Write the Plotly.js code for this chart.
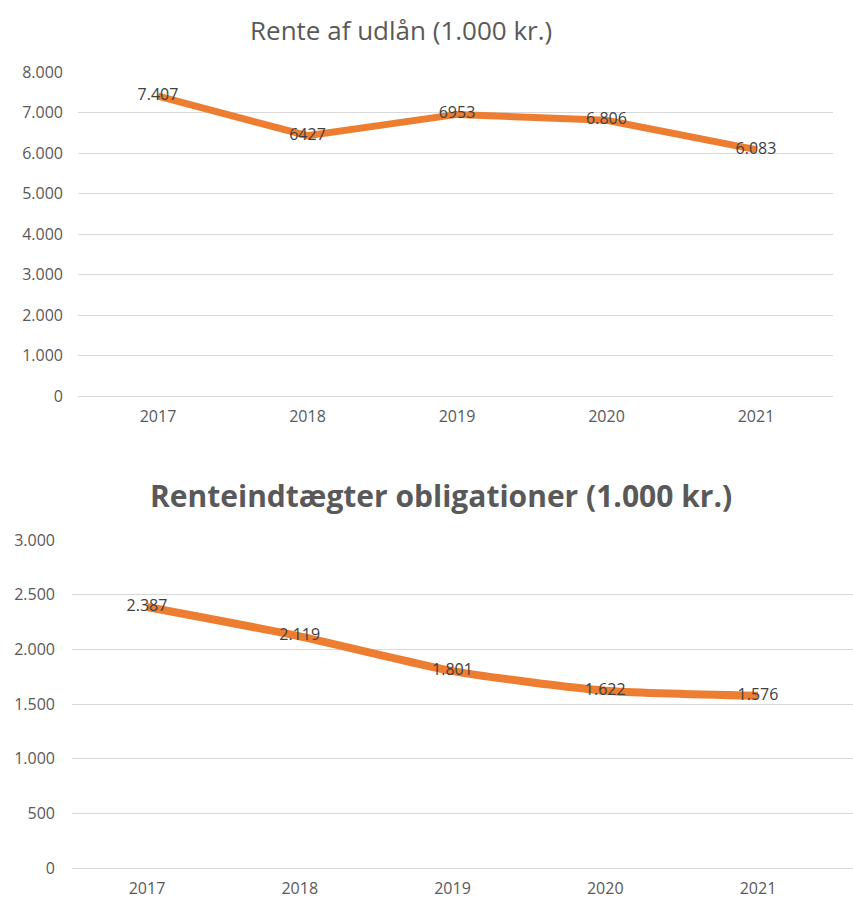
<!DOCTYPE html>
<html>
<head>
<meta charset="utf-8">
<script src="https://cdn.plot.ly/plotly-3.0.1.min.js"></script>
<style>html,body{margin:0;padding:0;background:#fff;}#chart{width:853px;height:903px;}</style>
</head>
<body>
<div id="chart"></div>
<script>
const years = ["2017", "2018", "2019", "2020", "2021"];
const renteUdlaan = [7407, 6427, 6953, 6806, 6083];
const renteUdlaanLabels = ["7.407", "6427", "6953", "6.806", "6.083"];
const renteObligationer = [2387, 2119, 1801, 1622, 1576];
const renteObligationerLabels = ["2.387", "2.119", "1.801", "1.622", "1.576"];
const title1 = "Rente af udlån (1.000 kr.)";
const title2 = "Renteindtægter obligationer (1.000 kr.)";

const W = 853, H = 903;
const font = "Open Sans, Noto Sans, sans-serif";
const orange = "#ED7D31";
const gray = "#595959";

const traces = [
  {x: years, y: renteUdlaan, text: renteUdlaanLabels, mode: "lines+text",
   textposition: "middle center", textfont: {family: font, size: 16, color: "#404040"},
   line: {color: orange, width: 7}, xaxis: "x", yaxis: "y", hoverinfo: "skip", cliponaxis: false},
  {x: years, y: renteObligationer, text: renteObligationerLabels, mode: "lines+text",
   textposition: "middle center", textfont: {family: font, size: 16, color: "#404040"},
   line: {color: orange, width: 8, shape: "spline", smoothing: 0.6}, xaxis: "x2", yaxis: "y2", hoverinfo: "skip", cliponaxis: false}
];

function py(p) { return 1 - p / H; }
function px(p) { return p / W; }

const common = {showgrid: true, gridcolor: "#d9d9d9", gridwidth: 1, zeroline: false,
  tickfont: {family: font, size: 16, color: gray}, ticks: "", fixedrange: true};

const layout = {
  width: W, height: H, margin: {l: 0, r: 0, t: 0, b: 0},
  paper_bgcolor: "#fff", plot_bgcolor: "#fff", showlegend: false,
  separators: ",.",
  xaxis: {domain: [px(78), px(833)], range: [-80/149.5, (833-158)/149.5], anchor: "y",
    type: "category", showgrid: false, showline: true, linecolor: "#d9d9d9", linewidth: 1,
    tickfont: {family: font, size: 16, color: gray}, ticks: "", ticklabelstandoff: 6, fixedrange: true},
  yaxis: Object.assign({}, common, {domain: [py(396), py(72)], range: [0, 8000], dtick: 1000,
    tickformat: ",d", anchor: "x", ticklabelstandoff: 14}),
  xaxis2: {domain: [px(72), px(853)], range: [-75/152.75, (853-147)/152.75], anchor: "y2",
    type: "category", showgrid: false, showline: true, linecolor: "#d9d9d9", linewidth: 1,
    tickfont: {family: font, size: 16, color: gray}, ticks: "", ticklabelstandoff: 6, fixedrange: true},
  yaxis2: Object.assign({}, common, {domain: [py(868), py(540)], range: [0, 3000], dtick: 500,
    tickformat: ",d", anchor: "x2", ticklabelstandoff: 16}),
  annotations: [
    {text: title1, xref: "paper", yref: "paper", x: px(401), y: py(30), showarrow: false,
     xanchor: "center", yanchor: "middle", font: {family: font, size: 26, color: gray}},
    {text: "<b>" + title2 + "</b>", xref: "paper", yref: "paper", x: px(441), y: py(495), showarrow: false,
     xanchor: "center", yanchor: "middle", font: {family: font, size: 30, color: gray}}
  ]
};

Plotly.newPlot("chart", traces, layout, {staticPlot: true, displayModeBar: false});
</script>
</body>
</html>
